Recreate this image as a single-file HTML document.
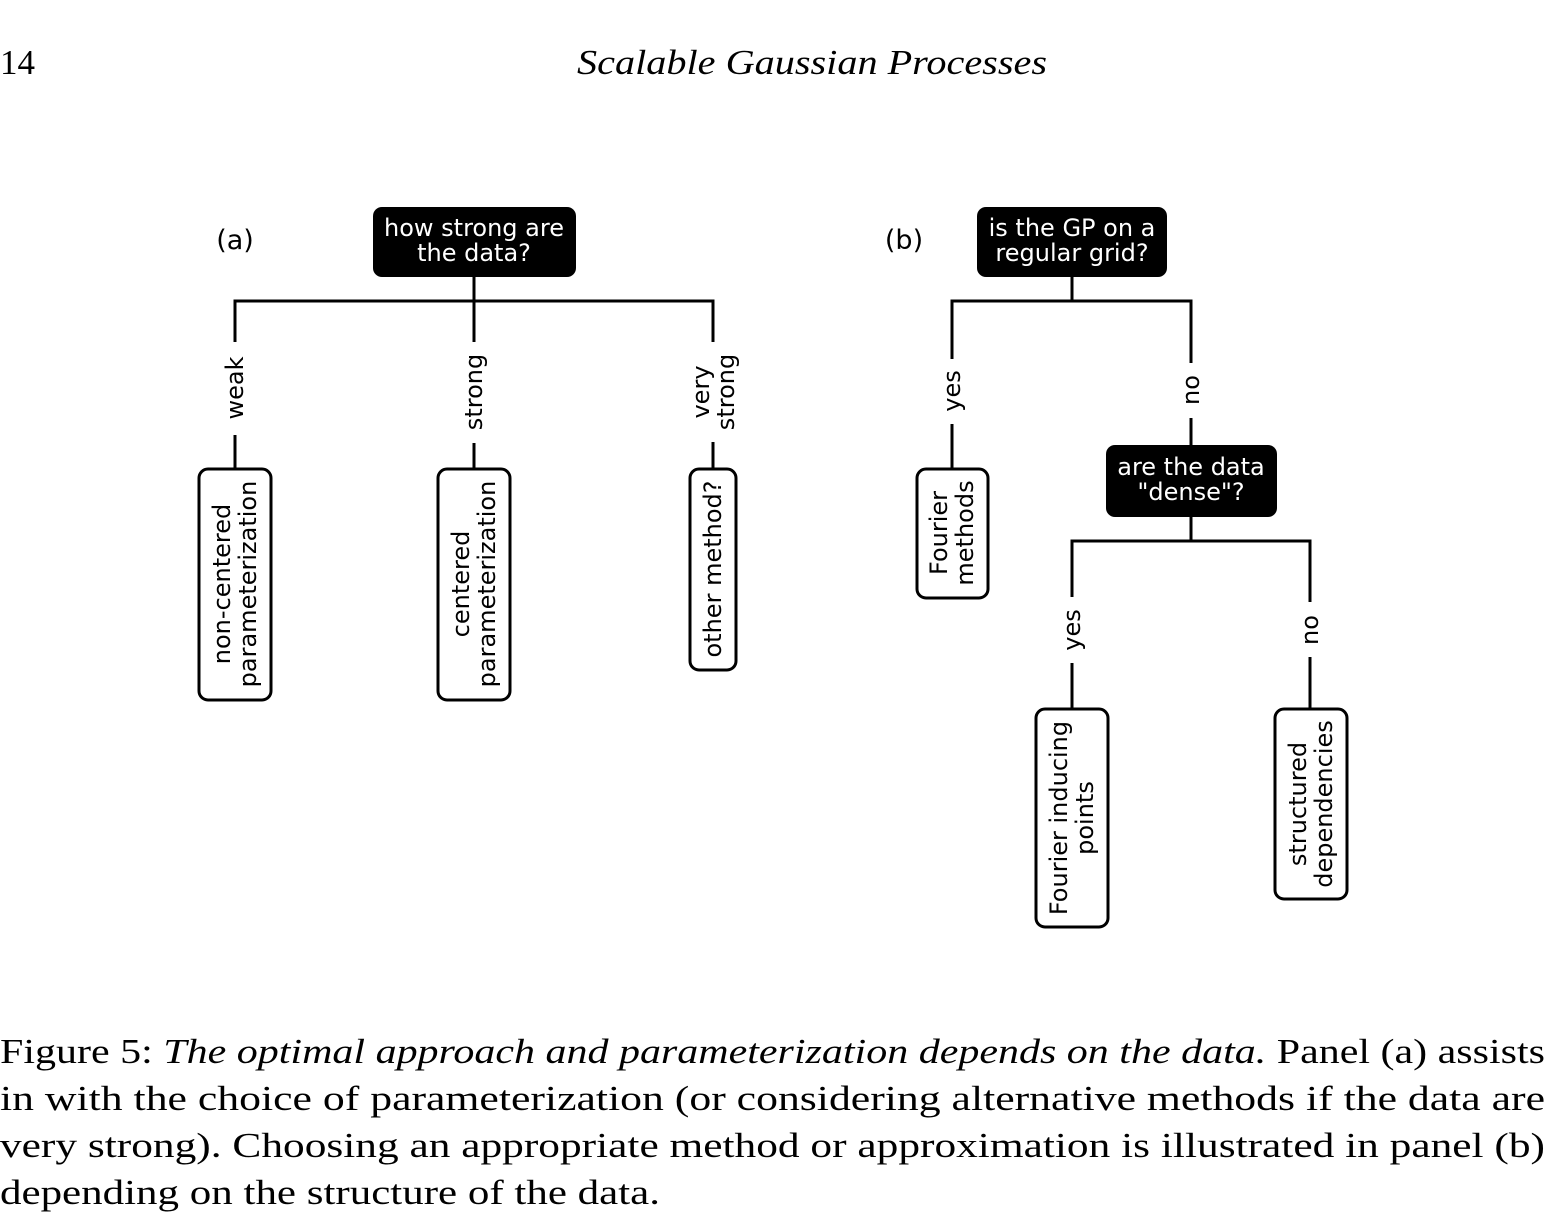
<!DOCTYPE html>
<html><head><meta charset="utf-8"><style>
html,body{margin:0;padding:0;background:#fff}
svg{display:block}
.d{font-family:"DejaVu Sans",sans-serif;font-size:24px}
.s{font-family:"Liberation Serif",serif;font-size:35px}
</style></head><body>
<svg width="1552" height="1226" viewBox="0 0 1552 1226" xmlns="http://www.w3.org/2000/svg">
<text class="s" x="0" y="74">14</text>
<text class="s" x="577" y="74" font-style="italic" textLength="470" lengthAdjust="spacingAndGlyphs">Scalable Gaussian Processes</text>

<g stroke="#000" stroke-width="3" fill="none">
<path d="M474 277V301M235 342V301H713V342M474 301V342M235 435V468M474 443V468M713 442V468"/>
<path d="M1072 277V301M952 359V301H1191V363M952 424V468M1191 418V445"/>
<path d="M1191 517V541M1072 597V541H1310V602M1072 663V708M1310 657V708"/>
</g>

<g>
<text class="d" x="235" y="249" text-anchor="middle" style="font-size:27px">(a)</text>
<rect x="373" y="207" width="203" height="70" rx="9" fill="#000"/>
<text class="d" fill="#fff" text-anchor="middle"><tspan x="474" y="236">how strong are</tspan><tspan x="474" y="261">the data?</tspan></text>
<text class="d" text-anchor="middle" transform="translate(235,388) rotate(-90)"><tspan x="0" y="8">weak</tspan></text>
<text class="d" text-anchor="middle" transform="translate(474,392) rotate(-90)"><tspan x="0" y="8">strong</tspan></text>
<text class="d" text-anchor="middle" transform="translate(713,392) rotate(-90)"><tspan x="0" y="-4">very</tspan><tspan x="0" y="21">strong</tspan></text>
<rect x="199" y="469" width="72" height="231" rx="9" fill="#fff" stroke="#000" stroke-width="3"/>
<text class="d" text-anchor="middle" transform="translate(235,584) rotate(-90)"><tspan x="0" y="-5">non-centered</tspan><tspan x="0" y="21">parameterization</tspan></text>
<rect x="438" y="469" width="72" height="231" rx="9" fill="#fff" stroke="#000" stroke-width="3"/>
<text class="d" text-anchor="middle" transform="translate(474,584) rotate(-90)"><tspan x="0" y="-5">centered</tspan><tspan x="0" y="21">parameterization</tspan></text>
<rect x="690" y="469" width="46" height="201" rx="9" fill="#fff" stroke="#000" stroke-width="3"/>
<text class="d" text-anchor="middle" transform="translate(713,569) rotate(-90)"><tspan x="0" y="8">other method?</tspan></text>
</g>

<g>
<text class="d" x="904" y="249" text-anchor="middle" style="font-size:27px">(b)</text>
<rect x="977" y="207" width="190" height="70" rx="9" fill="#000"/>
<text class="d" fill="#fff" text-anchor="middle"><tspan x="1072" y="236">is the GP on a</tspan><tspan x="1072" y="261">regular grid?</tspan></text>
<text class="d" text-anchor="middle" transform="translate(952,391) rotate(-90)"><tspan x="0" y="8">yes</tspan></text>
<text class="d" text-anchor="middle" transform="translate(1191,390) rotate(-90)"><tspan x="0" y="8">no</tspan></text>
<rect x="917" y="469" width="71" height="129" rx="9" fill="#fff" stroke="#000" stroke-width="3"/>
<text class="d" text-anchor="middle" transform="translate(952,533) rotate(-90)"><tspan x="0" y="-5">Fourier</tspan><tspan x="0" y="21">methods</tspan></text>
<rect x="1106" y="445" width="171" height="72" rx="9" fill="#000"/>
<text class="d" fill="#fff" text-anchor="middle"><tspan x="1191" y="475">are the data</tspan><tspan x="1191" y="500">"dense"?</tspan></text>
<text class="d" text-anchor="middle" transform="translate(1072,630) rotate(-90)"><tspan x="0" y="8">yes</tspan></text>
<text class="d" text-anchor="middle" transform="translate(1310,630) rotate(-90)"><tspan x="0" y="8">no</tspan></text>
<rect x="1036" y="709" width="72" height="218" rx="9" fill="#fff" stroke="#000" stroke-width="3"/>
<text class="d" text-anchor="middle" transform="translate(1072,818) rotate(-90)"><tspan x="0" y="-5">Fourier inducing</tspan><tspan x="0" y="21">points</tspan></text>
<rect x="1275" y="709" width="72" height="190" rx="9" fill="#fff" stroke="#000" stroke-width="3"/>
<text class="d" text-anchor="middle" transform="translate(1311,804) rotate(-90)"><tspan x="0" y="-5">structured</tspan><tspan x="0" y="21">dependencies</tspan></text>
</g>

<g>
<text class="s" x="0" y="1063" textLength="1545" lengthAdjust="spacingAndGlyphs">Figure 5: <tspan font-style="italic">The optimal approach and parameterization depends on the data.</tspan> Panel (a) assists</text>
<text class="s" x="0" y="1110" textLength="1545" lengthAdjust="spacingAndGlyphs">in with the choice of parameterization (or considering alternative methods if the data are</text>
<text class="s" x="0" y="1157" textLength="1545" lengthAdjust="spacingAndGlyphs">very strong). Choosing an appropriate method or approximation is illustrated in panel (b)</text>
<text class="s" x="0" y="1204" textLength="660" lengthAdjust="spacingAndGlyphs">depending on the structure of the data.</text>
</g>
</svg>
</body></html>
